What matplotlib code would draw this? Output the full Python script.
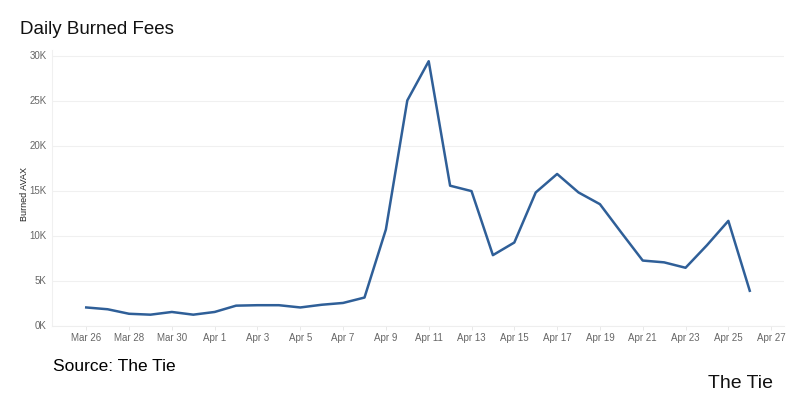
import matplotlib.pyplot as plt
import matplotlib.dates as mdates
import numpy as np
import pandas as pd

# daily burned AVAX, Mar 26 - Apr 26
dates = pd.date_range("2022-03-26", "2022-04-26", freq="D")
burned = [
    2100, 1900, 1400, 1300, 1600, 1300, 1600, 2300, 2350, 2350,
    2100, 2400, 2600, 3200, 10750, 25050, 29400, 15600, 15000, 7900,
    9300, 14850, 16900, 14850, 13550, 10400, 7300, 7100, 6500, 9000,
    11700, 3950,
]
yticks = [0, 5000, 10000, 15000, 20000, 25000, 30000]
ytick_labels = ["0K", "5K", "10K", "15K", "20K", "25K", "30K"]

plt.rcParams["font.family"] = ["Liberation Sans", "DejaVu Sans"]

fig = plt.figure(figsize=(8, 4), dpi=100)
ax = fig.add_axes([0.065, 0.184, 0.915, 0.690])

ax.plot(dates, burned, color="#2f5f98", linewidth=1.8)

ax.set_xlim(pd.Timestamp("2022-03-26") - pd.Timedelta(days=1.6),
            pd.Timestamp("2022-03-26") + pd.Timedelta(days=32.6))
ax.set_ylim(0, 30600)

xt = pd.date_range("2022-03-26", "2022-04-27", freq="2D")
ax.set_xticks(xt)
ax.set_xticklabels([d.strftime("%b ") + str(d.day) for d in xt])
ax.set_yticks(yticks)
ax.set_yticklabels(ytick_labels)

ax.tick_params(axis="x", colors="#e4e4e4", labelcolor="#666666",
               labelsize=7, length=3, width=0.6, pad=2)
ax.tick_params(axis="y", length=0, labelcolor="#666666", labelsize=7, pad=4)
for lbl in ax.get_yticklabels():
    lbl.set_verticalalignment("center")

ax.grid(axis="y", color="#f0f0f0", linewidth=0.8)
ax.set_axisbelow(True)
for side in ["top", "right"]:
    ax.spines[side].set_visible(False)
ax.spines["left"].set_color("#f0f0f0")
ax.spines["bottom"].set_color("#eeeeee")
ax.spines["left"].set_linewidth(0.8)
ax.spines["bottom"].set_linewidth(0.8)

ax.set_ylabel("Burned AVAX", fontsize=6.5, color="#222222")
ax.yaxis.set_label_coords(-0.032, 0.48)

fig.text(0.025, 0.927, "Daily Burned Fees", fontsize=13.5, color="#111111",
         va="center", ha="left")
fig.text(0.066, 0.083, "Source: The Tie", fontsize=12.5, color="#000000",
         va="center", ha="left")
fig.text(0.966, 0.04, "The Tie", fontsize=14, color="#111111",
         va="center", ha="right")

fig.savefig("out.png", dpi=100)
